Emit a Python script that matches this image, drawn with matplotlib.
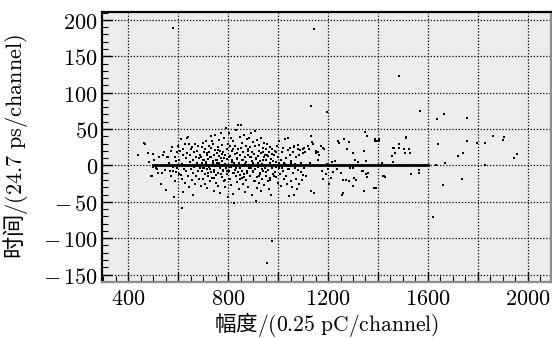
import numpy as np
import matplotlib
matplotlib.use("Agg")
import matplotlib.pyplot as plt
from matplotlib.ticker import MultipleLocator, FixedLocator, FuncFormatter

plt.rcParams["mathtext.fontset"] = "cm"
plt.rcParams["font.family"] = ["Noto Sans CJK SC", "DejaVu Sans"]

# scattered events (amplitude in channel, time in channel)
amp_low = [439, 465, 468, 481, 485, 492, 495, 499, 500, 505, 510, 515, 520, 525, 532, 535, 540, 545, 548, 552,
           555, 559, 562, 566, 570, 573, 575, 578, 580, 581, 584, 587, 587, 590, 593, 595, 597, 600, 603, 605,
           608, 611, 611, 614, 616, 617, 619, 621, 621, 624, 626, 628, 630, 632, 635, 636, 638, 641, 643, 645,
           646, 648, 650, 652, 654, 656, 658, 660, 661, 663, 665, 667, 668, 670, 672, 674, 676, 678, 680, 682,
           684, 686, 688, 690]
time_low = [14, 31, 30, 17, 5, -15, -14, 16, -2, 8, -4, -5, -10, 12, -25, -10, 14, 18, -6, -34,
            12, 11, 3, -8, 20, -15, 25, -2, -7, 189, -43, 12, -22, 6, -9, 18, -3, 27, -12, 8,
            20, 36, -13, 2, -18, -59, 15, 23, -37, -5, 30, -24, 10, -8, 38, 17, -14, 39, -30, 30,
            5, 14, -5, 22, -20, 25, -10, 8, -40, 18, -2, -25, 30, 12, -15, 20, 3, -8, 26, -18,
            10, -4, 15, -28]

amp_core = [692, 694, 695, 697, 698, 700, 701, 703, 704, 706,
            708, 709, 711, 712, 714, 716, 717, 719, 720, 722,
            724, 725, 727, 729, 730, 732, 733, 735, 737, 738,
            740, 742, 743, 745, 747, 748, 750, 751, 753, 755,
            756, 758, 760, 761, 763, 764, 766, 768, 769, 771,
            773, 774, 776, 777, 779, 781, 782, 784, 786, 787,
            789, 790, 792, 794, 795, 797, 799, 800, 802, 803,
            805, 807, 808, 810, 812, 813, 815, 816, 818, 820,
            821, 823, 825, 826, 828, 829, 831, 833, 834, 836,
            838, 839, 841, 842, 844, 846, 847, 849, 851, 852,
            854, 855, 857, 859, 860, 862, 864, 865, 867, 868,
            870, 872, 873, 875, 877, 878, 880, 881, 883, 885,
            886, 888, 890, 891, 893, 894, 896, 898, 899, 901,
            903, 904, 906, 907, 909, 911, 912, 914, 916, 917,
            919, 920, 922, 924, 925, 927, 929, 930, 932, 933,
            935, 937, 938, 940, 942, 943, 945, 946, 948, 950,
            951, 953, 955, 956, 958, 959, 961, 963, 964, 966,
            968, 969, 971, 972, 974, 975, 976, 977, 979, 980,
            699, 712, 726, 739, 752, 765, 778, 791, 804, 817,
            830, 843, 856, 869, 882, 895, 908, 921, 934, 947,
            705, 718, 731, 744, 757, 770, 783, 796, 809, 822,
            835, 848, 861, 874, 887, 900, 913, 926, 939, 952,
            715, 745, 775, 805, 835, 865, 895, 925, 955, 985,
            728, 758, 788, 818, 848, 878, 908, 938, 968, 993]
time_core = [12, -8, 25, 3, -18, 31, 7, -3, 18, -26,
             22, -12, 5, 33, -5, 15, -31, 9, -15, 27,
             -2, 19, -22, 11, 40, -9, 24, 33, -17, 6,
             29, -35, 14, -6, 21, 42, -13, 8, -24, 17,
             3, -28, 25, -10, 13, 35, -4, 20, -38, 10,
             45, -16, 6, 28, -7, 18, -21, 38, 2, -30,
             15, -3, 52, 23, -12, 9, -44, 30, -8, 44,
             12, -19, 26, -2, 37, -27, 7, 20, -11, -39,
             34, 4, -51, 16, -6, 27, -15, 48, 10, -23,
             22, -9, 56, 2, -33, 14, 39, -4, 56, 24,
             -17, 8, 31, -26, 18, -1, 42, -12, 11, -36,
             27, 5, -20, 36, -7, 15, -29, 22, 38, 1,
             -14, 25, -3, 44, 12, -41, 19, -9, 32, 4,
             -22, 16, 47, -5, 26, -49, 9, -16, 35, -31,
             13, -2, 28, -24, 20, 6, -11, 38, -35, 17,
             2, -19, 24, -8, 31, 11, -27, 15, -4, 22,
             -14, 8, -134, 29, -22, 13, -6, 19, -33, 3,
             25, -17, 9, -40, 16, -104, -3, 22, -12, 6,
             -3, 2, -5, 4, -1, 3, -6, 1, -2, 5,
             -4, 3, -7, 2, -3, 6, -1, 4, -5, 1,
             8, -10, 11, -9, 7, -12, 10, -8, 13, -11,
             9, -13, 7, -10, 12, -8, 10, -12, 8, -9,
             17, -17, 16, -18, 17, -16, 18, -15, 14, -14,
             -21, 21, -20, 22, -19, 20, -21, 19, -20, 18]

amp_mid = [983, 986, 988, 990, 993, 995, 998, 1000, 1003, 1005,
           1008, 1010, 1013, 1015, 1018, 1020, 1023, 1025, 1028, 1030,
           1033, 1035, 1038, 1041, 1043, 1045, 1048, 1050, 1053, 1055,
           1058, 1060, 1063, 1065, 1068, 1070, 1073, 1075, 1078, 1080,
           1083, 1085, 1088, 1090, 1093, 1095, 1098, 1100, 1103, 1105,
           1108, 1110, 990, 1002, 1016, 1027, 1039, 1052, 1066, 1079,
           1046, 1065, 1080, 1100, 1118, 1125, 1140, 1160, 1180, 1195]
time_mid = [14, -9, 20, -16, 5, 27, -24, 12, -3, 33,
            -12, 7, -28, 18, -7, 24, -19, 3, 36, -14,
            10, -25, 21, 38, -5, -42, 15, -22, 6, -30,
            19, -11, -40, 27, 2, -18, 11, -33, 23, -6,
            14, -26, 21, -9, 4, -20, 17, -13, 24, -4,
            19, -15, -2, 3, -4, 2, -5, 4, -3, 1,
            24, 25, 28, 22, 27, 22, 30, 19, 24, 2]

amp_tail = [1128, 1131, 1132, 1135, 1132, 1145, 1150, 1145, 1132, 1152, 1161, 1165, 1171, 1175, 1180,
            1185, 1190, 1195, 1200, 1205, 1210, 1215, 1220, 1228, 1235, 1241, 1244, 1252, 1255, 1259,
            1261, 1264, 1272, 1275, 1284, 1285, 1290, 1299, 1301, 1301, 1305, 1308, 1312, 1321, 1335,
            1341, 1344, 1344, 1348, 1352, 1352, 1355, 1355, 1361, 1385, 1388, 1389, 1392, 1396, 1403,
            1405, 1415, 1421, 1425, 1428,
            1455, 1460, 1461, 1466, 1468, 1483, 1485, 1485, 1505, 1508, 1511, 1512, 1523, 1528, 1532,
            1565, 1565, 1568, 1619, 1632, 1636, 1641, 1659, 1665, 1667, 1721, 1736, 1741, 1756, 1756,
            1796, 1827, 1829, 1860, 1899, 1905, 1943, 1956]
time_tail = [4, 41, 40, 32, -35, -38, 20, 187, 81, 17, 8, 15, 27, -7, -19,
             22, -12, 73, -5, -26, -17, 5, -9, 6, -5, 33, 31, -10, -40, -38,
             -20, 36, -20, 22, 32, -21, -4, -28, 17, -3, -17, 8, -20, 5, -8,
             -8, 20, -35, 46, 6, -12, 40, -16, -10, -31, 33, 36, -31, 33, 36,
             33, 4, -15, -15, -16,
             13, 24, 5, 24, 17, 123, 24, 29, 22, 17, 38, 39, 22, 17, -12,
             -6, -11, 75, -71, 0, 64, 30, -27, 71, 4, 13, -19, 17, 65, 34,
             31, 1, 31, 41, 35, 39, 10, 16]

# straight-line fit drawn across the data
fit_amp = [500, 1600]
fit_time = [1.0, 1.0]

amp = amp_low + amp_core + amp_mid + amp_tail
dt = time_low + time_core + time_mid + time_tail


def tick_text(v):
    v = int(round(v))
    if v < 0:
        return r"$-\,%d$" % (-v)
    return r"$%d$" % v


fig = plt.figure(figsize=(5.52, 3.38), dpi=100)
ax = fig.add_axes([0.185, 0.166, 0.813, 0.799])
ax.set_facecolor("#ececec")

ax.plot(amp, dt, "s", color="black", markersize=1.7, markeredgewidth=0, zorder=3)
ax.plot(fit_amp, fit_time, color="black", linewidth=2.0, zorder=4)

ax.set_xlim(296, 2092)
ax.set_ylim(-160, 211)

ax.xaxis.set_major_locator(MultipleLocator(200))
ax.xaxis.set_minor_locator(MultipleLocator(50))
ax.yaxis.set_major_locator(MultipleLocator(50))
ax.yaxis.set_minor_locator(MultipleLocator(10))
ax.xaxis.set_major_formatter(FuncFormatter(lambda v, p: tick_text(v) if int(round(v)) % 400 == 0 else ""))
ax.yaxis.set_major_formatter(FuncFormatter(lambda v, p: tick_text(v)))

ax.grid(True, which="major", color="black", linestyle=(0, (1, 1.5)), linewidth=0.9, zorder=1)
ax.set_axisbelow(True)

ax.tick_params(which="both", direction="in", top=False, right=False, labelsize=16, colors="black")
ax.tick_params(which="major", length=7, width=1.0)
ax.tick_params(which="minor", length=4, width=0.8)
ax.tick_params(axis="x", pad=3.5)
ax.tick_params(axis="y", pad=3)

for side in ["left", "top"]:
    ax.spines[side].set_color("black")
    ax.spines[side].set_linewidth(1.6)
for side in ["bottom", "right"]:
    ax.spines[side].set_color("#8c8c8c")
    ax.spines[side].set_linewidth(1.6)

ax.set_xlabel(r"幅度$/(0.25\ \mathrm{pC/channel})$", fontsize=15.5)
ax.set_ylabel(r"时间$/(24.7\ \mathrm{ps/channel})$", fontsize=16)
# place labels where they sit in the figure
ax.xaxis.set_label_coords(0.5, -0.182)
ax.xaxis.label.set_verticalalignment("baseline")
ax.yaxis.set_label_coords(-0.194, 0.5)
ax.yaxis.label.set_verticalalignment("center")

fig.savefig("out.png", dpi=100)
